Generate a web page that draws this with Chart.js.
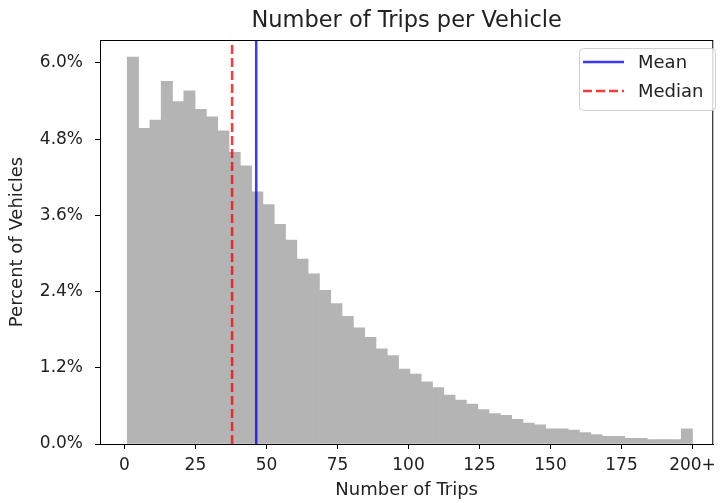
<!DOCTYPE html>
<html>
<head>
<meta charset="utf-8">
<script src="https://cdn.jsdelivr.net/npm/chart.js@4.4.0/dist/chart.umd.min.js"></script>
<style>
  html, body { margin: 0; padding: 0; background: #fff; }
  #wrap { width: 722px; height: 503px; }
</style>
</head>
<body>
<div id="wrap"><canvas id="tripsChart"></canvas></div>
<script>
// bin centres (number of trips), 50 bins from 1 to 200+
const binCenters = [
  2.99, 6.97, 10.95, 14.93, 18.91, 22.89, 26.87, 30.85, 34.83, 38.81,
  42.79, 46.77, 50.75, 54.73, 58.71, 62.69, 66.67, 70.65, 74.63, 78.61,
  82.59, 86.57, 90.55, 94.53, 98.51, 102.49, 106.47, 110.45, 114.43, 118.41,
  122.39, 126.37, 130.35, 134.33, 138.31, 142.29, 146.27, 150.25, 154.23, 158.21,
  162.19, 166.17, 170.15, 174.13, 178.11, 182.09, 186.07, 190.05, 194.03, 198.01
];
// percent of vehicles in each bin
const pctVehicles = [
  6.09, 4.97, 5.10, 5.71, 5.39, 5.56, 5.27, 5.15, 4.93, 4.59,
  4.38, 3.97, 3.77, 3.46, 3.21, 2.91, 2.68, 2.42, 2.21, 2.01,
  1.83, 1.68, 1.50, 1.39, 1.18, 1.10, 0.98, 0.89, 0.77, 0.69,
  0.63, 0.54, 0.48, 0.45, 0.39, 0.33, 0.30, 0.24, 0.24, 0.22,
  0.18, 0.15, 0.12, 0.12, 0.09, 0.09, 0.07, 0.07, 0.07, 0.24
];
const meanTrips = 46.4;
const medianTrips = 37.9;

const xTicks = [0, 25, 50, 75, 100, 125, 150, 175, 200];
const xTickLabels = ['0', '25', '50', '75', '100', '125', '150', '175', '200+'];
const yTicks = [0, 1.2, 2.4, 3.6, 4.8, 6.0];
const yTickLabels = ['0.0%', '1.2%', '2.4%', '3.6%', '4.8%', '6.0%'];

const xMin = -8.6, xMax = 207.3;
const yMin = 0, yMax = 6.36;

const FONT = "'DejaVu Sans', sans-serif";
const TEXT = '#222';

// frame, title and in-axes legend, drawn like matplotlib
const axesDecor = {
  id: 'axesDecor',
  afterDraw(chart) {
    const { ctx, chartArea: a } = chart;
    ctx.save();
    ctx.strokeStyle = '#000';
    ctx.lineWidth = 1;
    ctx.strokeRect(a.left + 0.5, a.top + 0.5, a.right - a.left - 1, a.bottom - a.top);

    ctx.fillStyle = TEXT;
    ctx.font = '22.5px ' + FONT;
    ctx.textAlign = 'center';
    ctx.textBaseline = 'alphabetic';
    ctx.fillText('Number of Trips per Vehicle', (a.left + a.right) / 2, 27);

    // legend
    const bx = 579, by = 48, bw = 136, bh = 62;
    ctx.beginPath();
    ctx.roundRect(bx + 0.5, by + 0.5, bw, bh, 4);
    ctx.fillStyle = 'rgba(255,255,255,0.8)';
    ctx.fill();
    ctx.strokeStyle = '#d0d0d0';
    ctx.stroke();
    const items = chart.data.datasets.filter(d => d.type === 'line');
    ctx.font = '18px ' + FONT;
    ctx.textAlign = 'left';
    ctx.textBaseline = 'middle';
    items.forEach((d, i) => {
      const y = 62 + i * 29;
      ctx.strokeStyle = d.borderColor;
      ctx.lineWidth = d.borderWidth;
      ctx.setLineDash(d.borderDash || []);
      ctx.beginPath();
      ctx.moveTo(583, y);
      ctx.lineTo(624, y);
      ctx.stroke();
      ctx.setLineDash([]);
      ctx.fillStyle = TEXT;
      ctx.fillText(d.label, 638, y + 1);
    });
    ctx.restore();
  }
};

new Chart(document.getElementById('tripsChart'), {
  data: {
    datasets: [
      {
        type: 'bar',
        label: 'Trips',
        data: binCenters.map((x, i) => ({ x: x, y: pctVehicles[i] })),
        backgroundColor: 'rgb(180,180,180)',
        borderWidth: 0,
        barPercentage: 1,
        categoryPercentage: 1,
        order: 2
      },
      {
        type: 'line',
        label: 'Mean',
        data: [{ x: meanTrips, y: yMin }, { x: meanTrips, y: yMax }],
        borderColor: 'rgba(0,0,255,0.78)',
        borderWidth: 2.5,
        pointRadius: 0,
        order: 1
      },
      {
        type: 'line',
        label: 'Median',
        data: [{ x: medianTrips, y: yMin }, { x: medianTrips, y: yMax }],
        borderColor: 'rgba(255,0,0,0.78)',
        borderWidth: 2.5,
        borderDash: [9, 4],
        pointRadius: 0,
        order: 0
      }
    ]
  },
  options: {
    responsive: true,
    maintainAspectRatio: false,
    animation: false,
    layout: { padding: { top: 40, right: 4, left: 0, bottom: 0 } },
    plugins: {
      legend: { display: false },
      title: { display: false },
      tooltip: { enabled: false }
    },
    scales: {
      x: {
        type: 'linear',
        min: xMin,
        max: xMax,
        offset: false,
        afterBuildTicks: s => { s.ticks = xTicks.map(v => ({ value: v })); },
        afterFit: s => { s.height = 59; },
        grid: { display: true, offset: false, drawOnChartArea: false, drawTicks: true, tickLength: 5, color: '#000' },
        border: { display: true, color: '#000' },
        ticks: {
          autoSkip: false,
          maxRotation: 0,
          padding: 6,
          color: TEXT,
          font: { family: FONT, size: 17 },
          callback: (v, i) => xTickLabels[i]
        },
        title: {
          display: true,
          text: 'Number of Trips',
          color: TEXT,
          font: { family: FONT, size: 18 },
          padding: { top: 0, bottom: 2 }
        }
      },
      y: {
        min: yMin,
        max: yMax,
        afterBuildTicks: s => { s.ticks = yTicks.map(v => ({ value: v })); },
        afterFit: s => { s.width = 100; },
        grid: { display: true, drawOnChartArea: false, drawTicks: true, tickLength: 5, color: '#000' },
        border: { display: true, color: '#000' },
        ticks: {
          padding: 12,
          color: TEXT,
          font: { family: FONT, size: 17 },
          callback: (v, i) => yTickLabels[i]
        },
        title: {
          display: true,
          text: 'Percent of Vehicles',
          color: TEXT,
          font: { family: FONT, size: 18 },
          padding: { top: 7, bottom: 0 }
        }
      }
    }
  },
  plugins: [axesDecor]
});
</script>
</body>
</html>
